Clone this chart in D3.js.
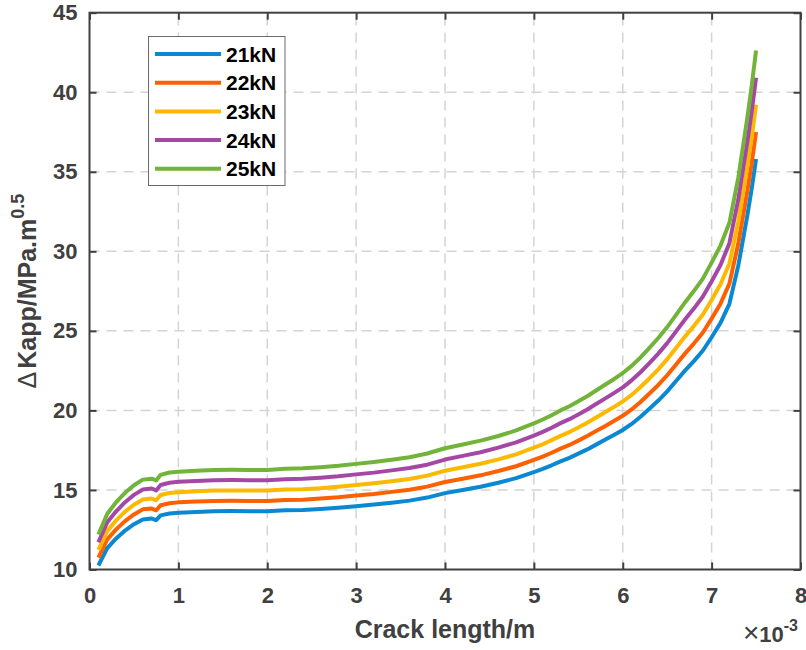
<!DOCTYPE html>
<html>
<head>
<meta charset="utf-8">
<script src="https://cdn.jsdelivr.net/npm/d3@7"></script>
<style>
  body { margin: 0; background: #fff; }
  svg text { font-family: "Liberation Sans", Arial, Helvetica, sans-serif; font-weight: bold; }
</style>
</head>
<body>
<svg id="chart" width="806" height="650"></svg>
<script>
// Crack length (×10^-3 m)
const crackLength = [
  0.1, 0.2, 0.3, 0.4, 0.5, 0.6, 0.7, 0.75, 0.8, 0.9, 1.0,
  1.2, 1.4, 1.6, 1.8, 2.0, 2.2, 2.4, 2.6, 2.8, 3.0, 3.2, 3.4, 3.6, 3.8, 4.0,
  4.2, 4.4, 4.6, 4.8, 5.0,
  5.1, 5.2, 5.3, 5.4, 5.5, 5.6, 5.7, 5.8, 5.9, 6.0, 6.1, 6.2, 6.3, 6.4, 6.5,
  6.6, 6.7, 6.8, 6.9, 7.0, 7.1, 7.2, 7.3, 7.4, 7.45, 7.5
];

// ΔKapp (MPa·m^0.5) for each load level
const k21 = [
  10.25, 11.35, 11.95, 12.45, 12.85, 13.15, 13.20, 13.10, 13.40, 13.52, 13.57,
  13.62, 13.66, 13.67, 13.66, 13.66, 13.72, 13.74, 13.80, 13.88, 13.98, 14.08, 14.20, 14.33, 14.52, 14.80,
  15.00, 15.20, 15.45, 15.74, 16.12,
  16.32, 16.55, 16.80, 17.02, 17.28, 17.55, 17.85, 18.15, 18.45, 18.77, 19.15, 19.60, 20.10, 20.62, 21.20,
  21.85, 22.50, 23.10, 23.75, 24.60, 25.50, 26.70, 29.10, 32.20, 33.90, 35.80
];
const k22 = [
  10.74, 11.89, 12.52, 13.04, 13.46, 13.78, 13.83, 13.72, 14.04, 14.16, 14.22,
  14.27, 14.31, 14.32, 14.31, 14.31, 14.37, 14.39, 14.46, 14.54, 14.65, 14.75, 14.88, 15.01, 15.21, 15.50,
  15.71, 15.92, 16.19, 16.49, 16.89,
  17.10, 17.34, 17.60, 17.83, 18.10, 18.39, 18.70, 19.01, 19.33, 19.66, 20.06, 20.53, 21.06, 21.60, 22.21,
  22.89, 23.57, 24.20, 24.88, 25.77, 26.71, 27.97, 30.49, 33.73, 35.51, 37.50
];
const k23 = [
  11.23, 12.43, 13.09, 13.64, 14.07, 14.40, 14.46, 14.35, 14.68, 14.81, 14.86,
  14.92, 14.96, 14.97, 14.96, 14.96, 15.03, 15.05, 15.11, 15.20, 15.31, 15.42, 15.55, 15.69, 15.90, 16.21,
  16.43, 16.65, 16.92, 17.24, 17.66,
  17.87, 18.13, 18.40, 18.64, 18.93, 19.22, 19.55, 19.88, 20.21, 20.56, 20.97, 21.47, 22.01, 22.58, 23.22,
  23.93, 24.64, 25.30, 26.01, 26.94, 27.93, 29.24, 31.87, 35.27, 37.13, 39.21
];
const k24 = [
  11.71, 12.97, 13.66, 14.23, 14.69, 15.03, 15.09, 14.97, 15.31, 15.45, 15.51,
  15.57, 15.61, 15.62, 15.61, 15.61, 15.68, 15.70, 15.77, 15.86, 15.98, 16.09, 16.23, 16.38, 16.59, 16.91,
  17.14, 17.37, 17.66, 17.99, 18.42,
  18.65, 18.91, 19.20, 19.45, 19.75, 20.06, 20.40, 20.74, 21.09, 21.45, 21.89, 22.40, 22.97, 23.57, 24.23,
  24.97, 25.71, 26.40, 27.14, 28.11, 29.14, 30.51, 33.26, 36.80, 38.74, 40.91
];
const k25 = [
  12.20, 13.51, 14.23, 14.82, 15.30, 15.65, 15.71, 15.60, 15.95, 16.10, 16.15,
  16.21, 16.26, 16.27, 16.26, 16.26, 16.33, 16.36, 16.43, 16.52, 16.64, 16.76, 16.90, 17.06, 17.29, 17.62,
  17.86, 18.10, 18.39, 18.74, 19.19,
  19.43, 19.70, 20.00, 20.26, 20.57, 20.89, 21.25, 21.61, 21.96, 22.35, 22.80, 23.33, 23.93, 24.55, 25.24,
  26.01, 26.79, 27.50, 28.27, 29.29, 30.36, 31.79, 34.64, 38.33, 40.36, 42.62
];

const loadLabels = ["21kN", "22kN", "23kN", "24kN", "25kN"];
const seriesValues = [k21, k22, k23, k24, k25];
const lineColors = ["#0a88d2", "#fd6000", "#fdb800", "#a548a5", "#72b33a"];

const xTicks = [0, 1, 2, 3, 4, 5, 6, 7, 8];
const yTicks = [10, 15, 20, 25, 30, 35, 40, 45];

const svg = d3.select("#chart");
const axisColor = "#404040";

const x = d3.scaleLinear().domain([0, 8]).range([89.5, 800.5]);
const y = d3.scaleLinear().domain([10, 45]).range([569.5, 12.7]);
const [x0, x1] = x.range();
const [y0, y1] = y.range();

// dashed grid
const grid = svg.append("g").attr("stroke", "#d4d4d4").attr("stroke-width", 1.5)
  .attr("stroke-dasharray", "10,7");
grid.selectAll("line.v").data(xTicks.slice(1, -1)).join("line")
  .attr("x1", d => x(d)).attr("x2", d => x(d)).attr("y1", y0).attr("y2", y1);
grid.selectAll("line.h").data(yTicks.slice(1, -1)).join("line")
  .attr("x1", x0).attr("x2", x1).attr("y1", d => y(d)).attr("y2", d => y(d));

// curves
const line = d3.line().x((d, i) => x(crackLength[i])).y(d => y(d));
svg.append("g").selectAll("path").data(seriesValues).join("path")
  .attr("d", d => line(d))
  .attr("fill", "none")
  .attr("stroke", (d, i) => lineColors[i])
  .attr("stroke-width", 4)
  .attr("stroke-linejoin", "round");

// axes with inward ticks on all four sides
function styleAxis(g) {
  g.select(".domain").remove();
  g.selectAll(".tick line").attr("stroke", axisColor).attr("stroke-width", 2);
  g.selectAll(".tick text").attr("fill", axisColor).style("font-size", "22px");
}
svg.append("g").attr("transform", `translate(0,${y0})`)
  .call(d3.axisBottom(x).tickValues(xTicks).tickSize(-7).tickPadding(18).tickFormat(d3.format("d")))
  .call(styleAxis);
svg.append("g").attr("transform", `translate(${x0},0)`)
  .call(d3.axisLeft(y).tickValues(yTicks).tickSize(-7).tickPadding(12).tickFormat(d3.format("d")))
  .call(styleAxis);
svg.append("g").attr("transform", `translate(0,${y1})`)
  .call(d3.axisTop(x).tickValues(xTicks).tickSize(-7).tickFormat(""))
  .call(styleAxis);
svg.append("g").attr("transform", `translate(${x1},0)`)
  .call(d3.axisRight(y).tickValues(yTicks).tickSize(-7).tickFormat(""))
  .call(styleAxis);

svg.append("rect")
  .attr("x", x0).attr("y", y1).attr("width", x1 - x0).attr("height", y0 - y1)
  .attr("fill", "none").attr("stroke", axisColor).attr("stroke-width", 2);

// axis titles
svg.append("text")
  .attr("x", (x0 + x1) / 2).attr("y", 638)
  .attr("text-anchor", "middle").attr("fill", axisColor).style("font-size", "25px")
  .text("Crack length/m");

const yTitle = svg.append("text")
  .attr("transform", `translate(36,${(y0 + y1) / 2}) rotate(-90)`)
  .attr("text-anchor", "middle").attr("fill", axisColor).style("font-size", "25px");
yTitle.append("tspan").style("font-weight", "normal").text("Δ");
yTitle.append("tspan").attr("dx", 3).text("Kapp/MPa.m");
yTitle.append("tspan").attr("dy", -12).style("font-size", "18px").text("0.5");

// axis exponent
const expo = svg.append("text")
  .attr("x", 798).attr("y", 642).attr("text-anchor", "end")
  .attr("fill", axisColor).style("font-size", "22px");
expo.append("tspan").style("font-weight", "normal").style("font-size", "28px").text("×");
expo.append("tspan").text("10");
expo.append("tspan").attr("dy", -11).style("font-size", "16px").text("-3");

// legend
const legend = svg.append("g");
legend.append("rect")
  .attr("x", 148.5).attr("y", 36.5).attr("width", 136.5).attr("height", 149)
  .attr("fill", "#fff").attr("stroke", "#6a6a6a").attr("stroke-width", 1);
const rows = legend.selectAll("g.row").data(loadLabels).join("g")
  .attr("transform", (d, i) => `translate(0,${54 + i * 28.7})`);
rows.append("line")
  .attr("x1", 155).attr("x2", 221).attr("y1", 0).attr("y2", 0)
  .attr("stroke", (d, i) => lineColors[i]).attr("stroke-width", 4);
rows.append("text")
  .attr("x", 226).attr("y", 0).attr("dy", "0.36em")
  .attr("fill", "#000").style("font-size", "21px")
  .text(d => d);
</script>
</body>
</html>
